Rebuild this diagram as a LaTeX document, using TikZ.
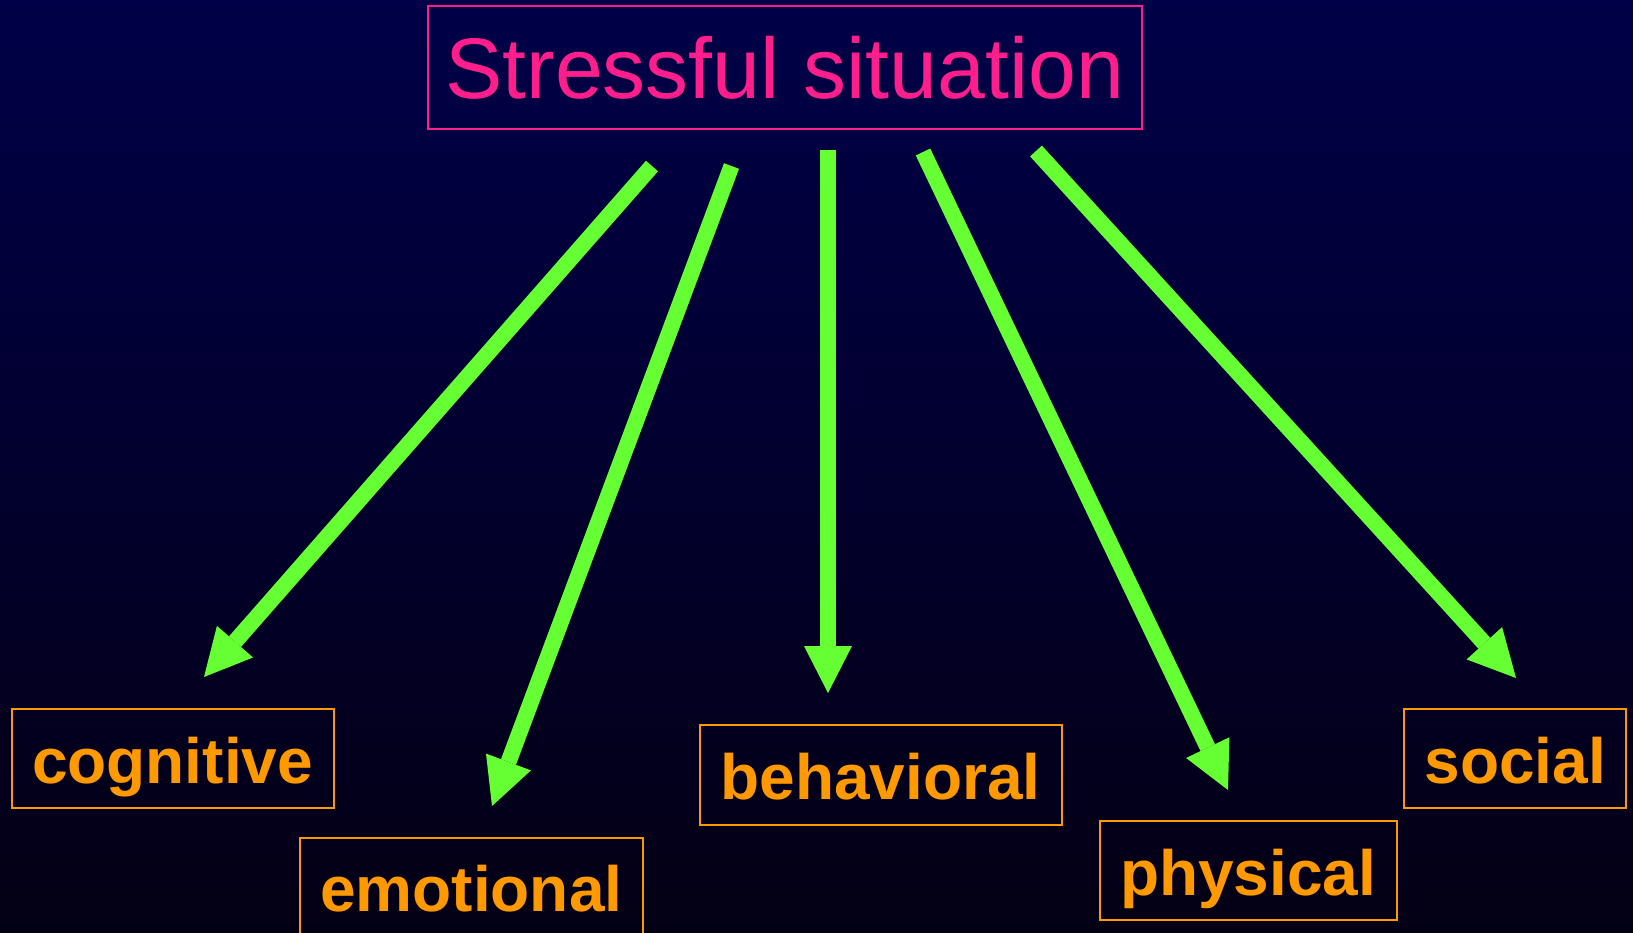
\documentclass[tikz,border=0pt]{standalone}
\usepackage{fontspec}
\setmainfont{Liberation Sans}
\usetikzlibrary{arrows.meta}

\definecolor{bgtop}{RGB}{0,0,72}
\definecolor{bgbottom}{RGB}{4,0,20}
\definecolor{titlepink}{RGB}{255,30,140}
\definecolor{labelorange}{RGB}{255,153,0}
\definecolor{arrowgreen}{RGB}{102,255,51}

\tikzset{
  titlebox/.style={draw=titlepink, line width=2pt, text=titlepink, inner sep=0pt,
    text height=63pt, text depth=0pt,
    font=\fontsize{86}{86}\selectfont},
  labelbox/.style={draw=labelorange, line width=2pt, text=labelorange, inner sep=0pt,
    minimum height=99pt, text height=49pt, text depth=0pt,
    font=\bfseries\fontsize{64}{64}\selectfont},
  effect/.style={draw=arrowgreen, line width=16pt,
    -{Triangle[length=47pt, width=48pt, line width=0pt]}}
}

\begin{document}
\begin{tikzpicture}[x=1pt, y=-1pt]
  % background
  \useasboundingbox (0,0) rectangle (1633,932);
  \shade[top color=bgtop, bottom color=bgbottom] (0,0) rectangle (1633,932);
  \clip (0,0) rectangle (1633,932);

  % source of stress
  \node[titlebox, minimum width=714pt, minimum height=123pt] (stress) at (784.6,67.4) {Stressful situation};

  % kinds of response
  \node[labelbox, minimum width=322pt] (cognitive)  at (172.5,758.5) {cognitive};
  \node[labelbox, minimum width=343pt] (emotional)  at (471.3,887.2) {emotional};
  \node[labelbox, minimum width=362pt, minimum height=100pt] (behavioral) at (880.6,775) {behavioral};
  \node[labelbox, minimum width=297pt] (physical)   at (1248.2,870.5) {physical};
  \node[labelbox, minimum width=222pt] (social)     at (1515.2,758.5) {social};

  % arrow ends
  \coordinate (cogS) at (652,166);    \coordinate (cogE) at (204,677);
  \coordinate (emoS) at (731.5,166);  \coordinate (emoE) at (492,806);
  \coordinate (behS) at (828,150);    \coordinate (behE) at (828,693);
  \coordinate (phyS) at (923,152);    \coordinate (phyE) at (1228,790);
  \coordinate (socS) at (1036,151);   \coordinate (socE) at (1516,678);

  \draw[effect] (cogS) -- (cogE);
  \draw[effect] (emoS) -- (emoE);
  \draw[effect] (behS) -- (behE);
  \draw[effect] (phyS) -- (phyE);
  \draw[effect] (socS) -- (socE);
\end{tikzpicture}
\end{document}
